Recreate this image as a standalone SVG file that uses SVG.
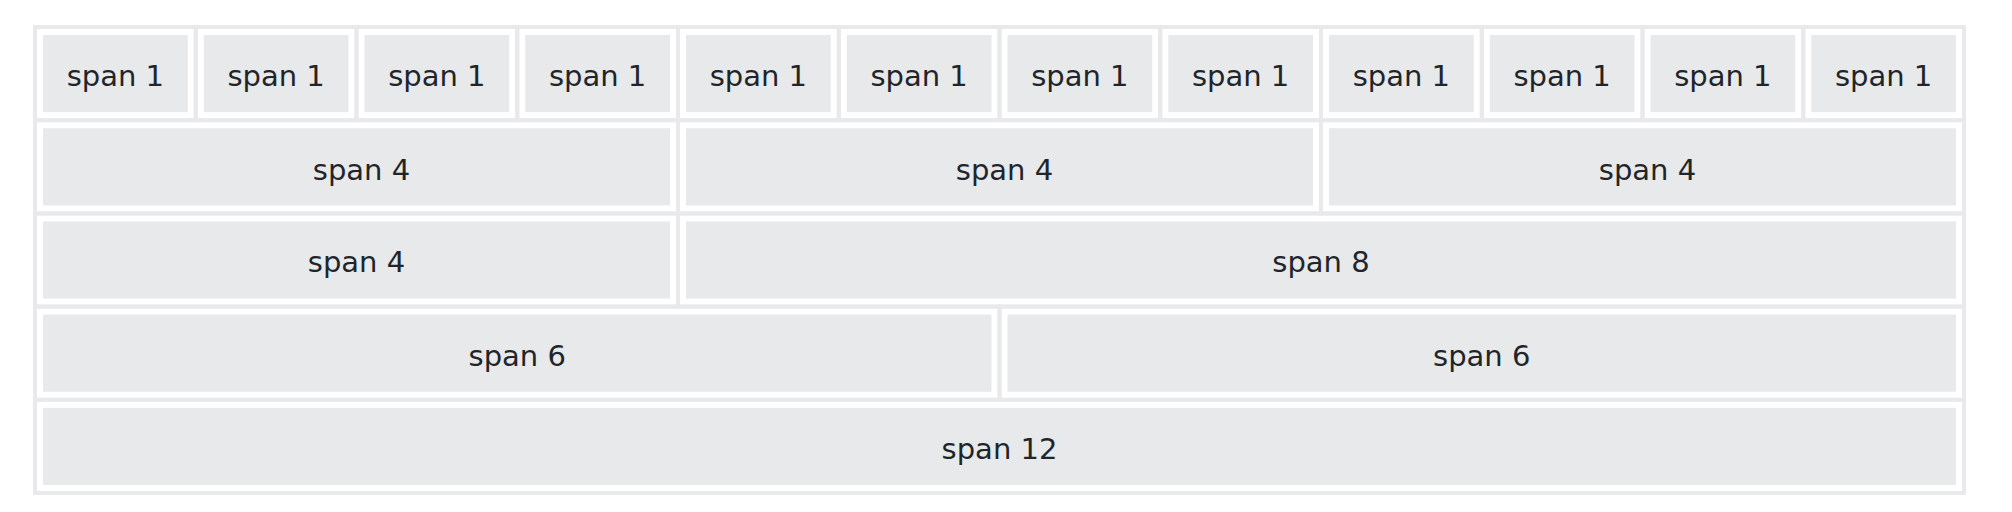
<svg xmlns="http://www.w3.org/2000/svg" width="2012" height="512" viewBox="0 0 2012 512">
<style>
.frame{fill:none;stroke:#e8e9eb;stroke-width:4}
.inner{fill:#e8e9eb}
.lbl{font-family:"DejaVu Sans","Liberation Sans",sans-serif;font-size:29px;fill:#212529;text-anchor:middle}
</style>
<rect x="0" y="0" width="2012" height="512" fill="#ffffff"/>
<g id="row1">
<g id="r1c1"><rect class="frame" x="35" y="27" width="160.75" height="93.2"/><rect class="inner" x="43" y="35" width="144.75" height="77.2"/><text class="lbl" x="115.4" y="85.8">span 1</text></g>
<g id="r1c2"><rect class="frame" x="195.75" y="27" width="160.75" height="93.2"/><rect class="inner" x="203.75" y="35" width="144.75" height="77.2"/><text class="lbl" x="276.1" y="85.8">span 1</text></g>
<g id="r1c3"><rect class="frame" x="356.5" y="27" width="160.75" height="93.2"/><rect class="inner" x="364.5" y="35" width="144.75" height="77.2"/><text class="lbl" x="436.9" y="85.8">span 1</text></g>
<g id="r1c4"><rect class="frame" x="517.25" y="27" width="160.75" height="93.2"/><rect class="inner" x="525.25" y="35" width="144.75" height="77.2"/><text class="lbl" x="597.6" y="85.8">span 1</text></g>
<g id="r1c5"><rect class="frame" x="678" y="27" width="160.75" height="93.2"/><rect class="inner" x="686" y="35" width="144.75" height="77.2"/><text class="lbl" x="758.4" y="85.8">span 1</text></g>
<g id="r1c6"><rect class="frame" x="838.75" y="27" width="160.75" height="93.2"/><rect class="inner" x="846.75" y="35" width="144.75" height="77.2"/><text class="lbl" x="919.1" y="85.8">span 1</text></g>
<g id="r1c7"><rect class="frame" x="999.5" y="27" width="160.75" height="93.2"/><rect class="inner" x="1007.5" y="35" width="144.75" height="77.2"/><text class="lbl" x="1079.9" y="85.8">span 1</text></g>
<g id="r1c8"><rect class="frame" x="1160.25" y="27" width="160.75" height="93.2"/><rect class="inner" x="1168.25" y="35" width="144.75" height="77.2"/><text class="lbl" x="1240.6" y="85.8">span 1</text></g>
<g id="r1c9"><rect class="frame" x="1321" y="27" width="160.75" height="93.2"/><rect class="inner" x="1329" y="35" width="144.75" height="77.2"/><text class="lbl" x="1401.4" y="85.8">span 1</text></g>
<g id="r1c10"><rect class="frame" x="1481.75" y="27" width="160.75" height="93.2"/><rect class="inner" x="1489.75" y="35" width="144.75" height="77.2"/><text class="lbl" x="1562.1" y="85.8">span 1</text></g>
<g id="r1c11"><rect class="frame" x="1642.5" y="27" width="160.75" height="93.2"/><rect class="inner" x="1650.5" y="35" width="144.75" height="77.2"/><text class="lbl" x="1722.9" y="85.8">span 1</text></g>
<g id="r1c12"><rect class="frame" x="1803.25" y="27" width="160.75" height="93.2"/><rect class="inner" x="1811.25" y="35" width="144.75" height="77.2"/><text class="lbl" x="1883.6" y="85.8">span 1</text></g>
</g>
<g id="row2">
<g id="r2c1"><rect class="frame" x="35" y="120.2" width="643" height="93.2"/><rect class="inner" x="43" y="128.2" width="627" height="77.2"/><text class="lbl" x="361.5" y="179.5">span 4</text></g>
<g id="r2c2"><rect class="frame" x="678" y="120.2" width="643" height="93.2"/><rect class="inner" x="686" y="128.2" width="627" height="77.2"/><text class="lbl" x="1004.5" y="179.5">span 4</text></g>
<g id="r2c3"><rect class="frame" x="1321" y="120.2" width="643" height="93.2"/><rect class="inner" x="1329" y="128.2" width="627" height="77.2"/><text class="lbl" x="1647.5" y="179.5">span 4</text></g>
</g>
<g id="row3">
<g id="r3c1"><rect class="frame" x="35" y="213.4" width="643" height="93.2"/><rect class="inner" x="43" y="221.4" width="627" height="77.2"/><text class="lbl" x="356.5" y="272.4">span 4</text></g>
<g id="r3c2"><rect class="frame" x="678" y="213.4" width="1286" height="93.2"/><rect class="inner" x="686" y="221.4" width="1270" height="77.2"/><text class="lbl" x="1321" y="272.4">span 8</text></g>
</g>
<g id="row4">
<g id="r4c1"><rect class="frame" x="35" y="306.6" width="964.5" height="93.2"/><rect class="inner" x="43" y="314.6" width="948.5" height="77.2"/><text class="lbl" x="517.25" y="365.6">span 6</text></g>
<g id="r4c2"><rect class="frame" x="999.5" y="306.6" width="964.5" height="93.2"/><rect class="inner" x="1007.5" y="314.6" width="948.5" height="77.2"/><text class="lbl" x="1481.75" y="365.6">span 6</text></g>
</g>
<g id="row5">
<g id="r5c1"><rect class="frame" x="35" y="399.8" width="1929" height="93.2"/><rect class="inner" x="43" y="407.8" width="1913" height="77.2"/><text class="lbl" x="999.5" y="458.6">span 12</text></g>
</g>
</svg>
